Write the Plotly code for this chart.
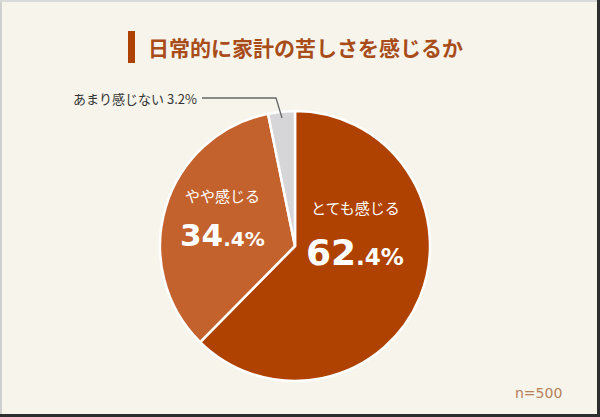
import plotly.graph_objects as go

labels = ["とても感じる", "やや感じる", "あまり感じない"]
values = [62.4, 34.4, 3.2]
colors = ["#AF4200", "#C4622E", "#D6D6D8"]
title_text = "日常的に家計の苦しさを感じるか"
n_note = "n=500"

FONT = "Noto Sans CJK JP"
NUMFONT = "DejaVu Sans"
W, H = 600, 417


def px(x):
    return x / W


def py(y):
    return 1 - y / H


def split_pct(v):
    s = f"{v:.1f}"
    ip, dp = s.split(".")
    return ip, dp


fig = go.Figure()
fig.add_trace(go.Pie(
    labels=labels, values=values, sort=False, direction="clockwise", rotation=0,
    marker=dict(colors=colors, line=dict(color="#FFFFFF", width=2.5)),
    textinfo="none", hoverinfo="label+value", showlegend=False,
    domain=dict(x=[px(295 - 135), px(295 + 135)], y=[py(246 + 135), py(246 - 135)]),
))

ann = []
# inside labels for the two large slices: (x, label y, number y, big size, small size)
pos = [(355, 207, 252, 36, 23), (222, 195, 235, 31, 20)]
for i in range(2):
    x, y1, y2, big, small = pos[i]
    ann.append(dict(x=px(x), y=py(y1), xref="paper", yref="paper", xanchor="center", yanchor="middle",
                    text=labels[i], showarrow=False, font=dict(family=FONT, size=15, color="white")))
    ip, dp = split_pct(values[i])
    ann.append(dict(x=px(x), y=py(y2), xref="paper", yref="paper", xanchor="center", yanchor="middle",
                    text=f"<b>{ip}</b><b><span style='font-size:{small}px'>.{dp}%</span></b>",
                    showarrow=False, font=dict(family=NUMFONT, size=big, color="white")))
# outside label for small slice
ann.append(dict(x=px(199), y=py(99), xref="paper", yref="paper", xanchor="right", yanchor="middle",
                text=f"{labels[2]} {values[2]:.1f}%", showarrow=False,
                font=dict(family=FONT, size=13, color="#333333")))
# title
ann.append(dict(x=px(146), y=py(47), xref="paper", yref="paper", xanchor="left", yanchor="middle",
                text=f"<b>{title_text}</b>", showarrow=False,
                font=dict(family=FONT, size=21, color="#A84C1A")))
ann.append(dict(x=px(564), y=py(393), xref="paper", yref="paper", xanchor="right", yanchor="middle",
                text=n_note, showarrow=False,
                font=dict(family=NUMFONT, size=14, color="#B5805A")))

shapes = [
    # title accent bar
    dict(type="rect", xref="paper", yref="paper", x0=px(128), x1=px(135), y0=py(63), y1=py(31),
         fillcolor="#AF4200", line=dict(width=0)),
    # leader line
    dict(type="path", xref="paper", yref="paper",
         path=f"M {px(202)} {py(98)} L {px(276)} {py(98)} L {px(282)} {py(118)}",
         line=dict(color="#666666", width=1.3)),
    # border
    dict(type="line", xref="paper", yref="paper", x0=px(1), x1=px(1), y0=0, y1=1,
         line=dict(color="#CFCFCF", width=2)),
    dict(type="line", xref="paper", yref="paper", x0=0, x1=1, y0=py(1), y1=py(1),
         line=dict(color="#DADADA", width=2)),
    dict(type="line", xref="paper", yref="paper", x0=px(598.5), x1=px(598.5), y0=0, y1=1,
         line=dict(color="#2E2E2E", width=3)),
    dict(type="line", xref="paper", yref="paper", x0=0, x1=1, y0=py(415.5), y1=py(415.5),
         line=dict(color="#2E2E2E", width=3)),
]

fig.update_layout(
    width=W, height=H, margin=dict(l=0, r=0, t=0, b=0),
    paper_bgcolor="#F7F5EB", plot_bgcolor="#F7F5EB",
    annotations=ann, shapes=shapes,
)
fig.write_html("out.html", config={"displayModeBar": False},
               post_script="document.body.style.margin='0px';")
